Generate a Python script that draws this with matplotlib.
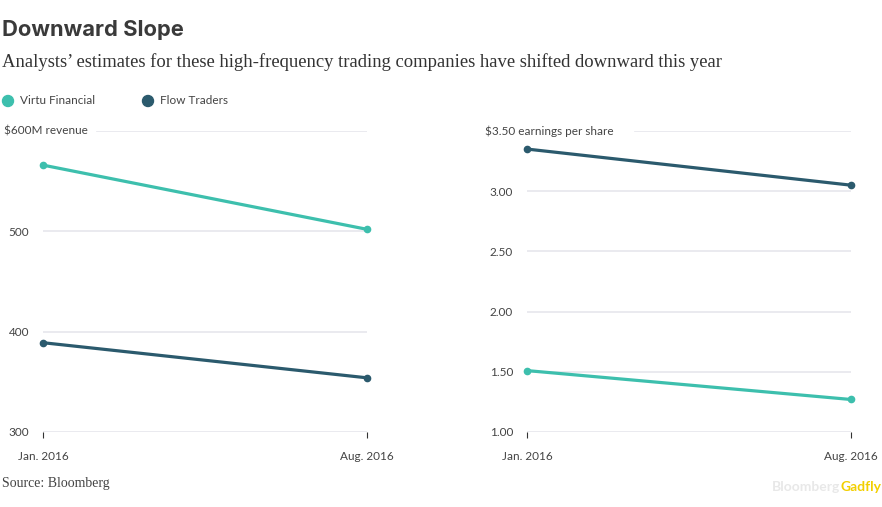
import matplotlib

matplotlib.use("Agg")
import matplotlib.pyplot as plt

# data
dates = ["Jan. 2016", "Aug. 2016"]
virtu_revenue = [566, 502]
flow_revenue = [389, 354]
virtu_eps = [1.51, 1.27]
flow_eps = [3.35, 3.05]

revenue_ticks = [300, 400, 500, 600]
revenue_labels = ["300", "400", "500", "$600M revenue"]
eps_ticks = [1.0, 1.5, 2.0, 2.5, 3.0, 3.5]
eps_labels = ["1.00", "1.50", "2.00", "2.50", "3.00", "$3.50 earnings per share"]

VIRTU = "#3dbfad"
FLOW = "#2b5a6d"
GRID = "#e6e6ec"
TEXT = "#444444"
SANS = "Lato"
SERIF = "Liberation Serif"

W, H = 882, 507
fig = plt.figure(figsize=(W / 100, H / 100), dpi=100, facecolor="white")


def px(x, y):
    return x / W, 1 - y / H


def draw_panel(left, ylim, ticks, labels, series, top_grid_start):
    x0, y0 = px(left, 432)
    _, y1 = px(left, 131)
    ax = fig.add_axes([x0, y0, 324 / W, y1 - y0])
    ax.set_xlim(0, 1)
    ax.set_ylim(*ylim)
    for spine in ax.spines.values():
        spine.set_visible(False)
    for i, t in enumerate(ticks):
        xmin = top_grid_start if i == len(ticks) - 1 else 0
        ax.axhline(t, xmin=xmin, xmax=1, color=GRID, lw=1.2, zorder=0)
    ax.set_yticks(ticks[:-1])
    ax.set_yticklabels(labels[:-1], fontsize=8.5, color=TEXT, family=SANS)
    ax.tick_params(axis="y", length=0, pad=10)
    ax.set_xticks([0, 1])
    ax.set_xticklabels(dates, fontsize=8.5, color=TEXT, family=SANS)
    ax.tick_params(axis="x", length=4, width=0.8, color="#333333", pad=10, direction="out")
    for vals, color in series:
        ax.plot([0, 1], vals, color=color, lw=2.3, marker="o", markersize=4.5,
                clip_on=False, solid_capstyle="round", zorder=3)
    return ax


ax1 = draw_panel(43, (300, 600), revenue_ticks, revenue_labels,
                 [(virtu_revenue, VIRTU), (flow_revenue, FLOW)], (97 - 43) / 324)
ax2 = draw_panel(527, (1.0, 3.5), eps_ticks, eps_labels,
                 [(virtu_eps, VIRTU), (flow_eps, FLOW)], (635 - 527) / 324)

# top axis labels
fig.text(*px(4, 131), revenue_labels[-1], fontsize=8.5, color=TEXT, family=SANS, va="center", ha="left")
fig.text(*px(485, 131), eps_labels[-1], fontsize=8.5, color=TEXT, family=SANS, va="center", ha="left")

# title block
fig.text(*px(2, 30), "Downward Slope", fontsize=15.8, fontweight="bold", color="#3a3a3a",
         family="Inter", va="center", ha="left")
fig.text(*px(2, 62), "Analysts\u2019 estimates for these high-frequency trading companies have shifted downward this year",
         fontsize=13.4, color="#333333", family=SERIF, va="center", ha="left")

# legend
for x, name, color in [(8, "Virtu Financial", VIRTU), (148, "Flow Traders", FLOW)]:
    fig.patches.append(matplotlib.patches.Ellipse(px(x, 101), 11 / W, 11 / H, color=color,
                                                  transform=fig.transFigure, figure=fig))
    fig.text(*px(x + 12, 101), name, fontsize=8.5, color=TEXT, family=SANS, va="center", ha="left")

# footer
fig.text(*px(2, 484), "Source: Bloomberg", fontsize=10, color="#444444", family=SERIF, va="center", ha="left")
t = fig.text(*px(772, 487), "Bloomberg", fontsize=10, fontweight="bold", color="#e8e8e8",
             family=SANS, va="center", ha="left")
fig.canvas.draw()
bb = t.get_window_extent()
fig.text(bb.x1 / W, 1 - 487 / H, "Gadfly", fontsize=10, fontweight="bold", color="#f2cf00",
         family=SANS, va="center", ha="left")

fig.savefig("out.png", dpi=100, facecolor="white")
